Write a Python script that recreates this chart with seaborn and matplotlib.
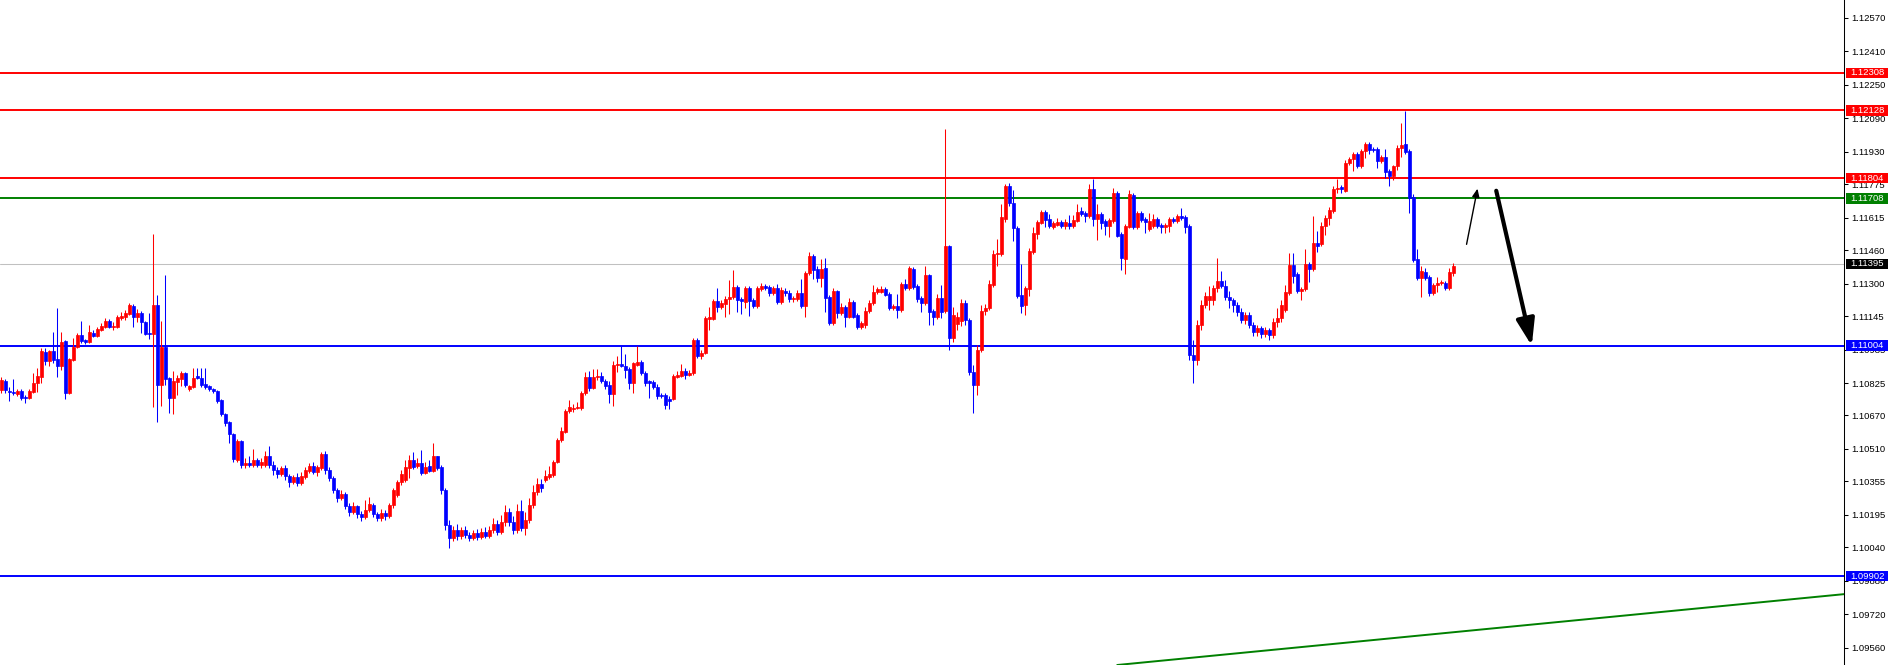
import numpy as np
import pandas as pd
import matplotlib
matplotlib.use('Agg')
import matplotlib.pyplot as plt
from matplotlib.patches import Rectangle, FancyArrowPatch
import seaborn as sns

# candle data (bar index 0..363), prices
opens = [
    1.10792, 1.10835, 1.10787, 1.10782, 1.10773, 1.10787, 1.10759, 1.10754, 1.10782, 1.10826,
    1.10854, 1.10973, 1.10930, 1.10978, 1.10940, 1.10906, 1.11026, 1.10778, 1.10935, 1.10998,
    1.11055, 1.11031, 1.11021, 1.11065, 1.11050, 1.11079, 1.11093, 1.11121, 1.11093, 1.11093,
    1.11136, 1.11141, 1.11155, 1.11193, 1.11141, 1.11160, 1.11116, 1.11065, 1.11060, 1.11198,
    1.10816, 1.10998, 1.10849, 1.10754, 1.10830, 1.10845, 1.10873, 1.10797, 1.10806, 1.10858,
    1.10849, 1.10821, 1.10811, 1.10797, 1.10787, 1.10744, 1.10677, 1.10638, 1.10582, 1.10457,
    1.10548, 1.10433, 1.10443, 1.10433, 1.10457, 1.10433, 1.10433, 1.10476, 1.10433, 1.10409,
    1.10390, 1.10419, 1.10380, 1.10352, 1.10375, 1.10348, 1.10375, 1.10404, 1.10428, 1.10400,
    1.10419, 1.10486, 1.10409, 1.10371, 1.10314, 1.10276, 1.10295, 1.10237, 1.10208, 1.10237,
    1.10199, 1.10185, 1.10218, 1.10242, 1.10199, 1.10180, 1.10204, 1.10189, 1.10242, 1.10290,
    1.10352, 1.10362, 1.10419, 1.10457, 1.10428, 1.10443, 1.10395, 1.10428, 1.10404, 1.10476,
    1.10424, 1.10314, 1.10146, 1.10084, 1.10123, 1.10094, 1.10123, 1.10099, 1.10084, 1.10108,
    1.10089, 1.10113, 1.10094, 1.10123, 1.10151, 1.10113, 1.10160, 1.10208, 1.10160, 1.10123,
    1.10213, 1.10132, 1.10170, 1.10242, 1.10304, 1.10343, 1.10362, 1.10375, 1.10385, 1.10447,
    1.10553, 1.10591, 1.10691, 1.10701, 1.10706, 1.10706, 1.10778, 1.10854, 1.10802, 1.10854,
    1.10858, 1.10835, 1.10816, 1.10773, 1.10911, 1.10916, 1.10906, 1.10892, 1.10826, 1.10911,
    1.10926, 1.10873, 1.10835, 1.10830, 1.10806, 1.10768, 1.10768, 1.10749, 1.10749, 1.10854,
    1.10858, 1.10882, 1.10863, 1.10873, 1.11031, 1.10954, 1.10969, 1.11131, 1.11131, 1.11217,
    1.11189, 1.11203, 1.11227, 1.11237, 1.11285, 1.11227, 1.11212, 1.11280, 1.11222, 1.11193,
    1.11275, 1.11289, 1.11285, 1.11256, 1.11280, 1.11212, 1.11265, 1.11256, 1.11227, 1.11227,
    1.11256, 1.11193, 1.11351, 1.11433, 1.11370, 1.11328, 1.11375, 1.11237, 1.11112, 1.11265,
    1.11160, 1.11189, 1.11141, 1.11212, 1.11150, 1.11093, 1.11103, 1.11169, 1.11208, 1.11261,
    1.11261, 1.11275, 1.11251, 1.11184, 1.11193, 1.11174, 1.11299, 1.11280, 1.11370, 1.11289,
    1.11232, 1.11208, 1.11341, 1.11169, 1.11141, 1.11232, 1.11169, 1.11480, 1.11041, 1.11108,
    1.11121, 1.11208, 1.11126, 1.10878, 1.10816, 1.10983, 1.11169, 1.11184, 1.11294, 1.11442,
    1.11442, 1.11609, 1.11767, 1.11686, 1.11566, 1.11246, 1.11198, 1.11275, 1.11452, 1.11538,
    1.11590, 1.11643, 1.11609, 1.11571, 1.11580, 1.11595, 1.11576, 1.11590, 1.11576, 1.11600,
    1.11648, 1.11638, 1.11624, 1.11753, 1.11609, 1.11633, 1.11600, 1.11576, 1.11600, 1.11734,
    1.11538, 1.11418, 1.11571, 1.11724, 1.11571, 1.11638, 1.11609, 1.11561, 1.11576, 1.11609,
    1.11580, 1.11571, 1.11576, 1.11609, 1.11600, 1.11624, 1.11619, 1.11576, 1.10959, 1.10935,
    1.11103, 1.11198, 1.11222, 1.11222, 1.11280, 1.11313, 1.11289, 1.11237, 1.11222, 1.11198,
    1.11164, 1.11126, 1.11150, 1.11103, 1.11069, 1.11089, 1.11060, 1.11079, 1.11055, 1.11116,
    1.11136, 1.11174, 1.11256, 1.11389, 1.11346, 1.11265, 1.11275, 1.11394, 1.11370, 1.11495,
    1.11490, 1.11576, 1.11614, 1.11648, 1.11753, 1.11762, 1.11743, 1.11877, 1.11896, 1.11920,
    1.11863, 1.11935, 1.11968, 1.11944, 1.11944, 1.11887, 1.11906, 1.11839, 1.11815, 1.11863,
    1.11949, 1.11968, 1.11935, 1.11715, 1.11418, 1.11328, 1.11356, 1.11332, 1.11256, 1.11294,
    1.11304, 1.11304, 1.11280, 1.11351,
]
highs = [
    1.10854, 1.10845, 1.10806, 1.10845, 1.10797, 1.10797, 1.10768, 1.10797, 1.10873, 1.10897,
    1.10993, 1.10993, 1.10983, 1.11069, 1.11184, 1.11069, 1.11031, 1.10945, 1.11041, 1.11065,
    1.11121, 1.11036, 1.11103, 1.11079, 1.11093, 1.11112, 1.11136, 1.11131, 1.11116, 1.11150,
    1.11164, 1.11174, 1.11208, 1.11203, 1.11179, 1.11169, 1.11121, 1.11160, 1.11538, 1.11246,
    1.11121, 1.11341, 1.10854, 1.10882, 1.10863, 1.10882, 1.10878, 1.10816, 1.10897, 1.10897,
    1.10897, 1.10897, 1.10816, 1.10802, 1.10792, 1.10749, 1.10682, 1.10643, 1.10587, 1.10558,
    1.10553, 1.10467, 1.10476, 1.10510, 1.10467, 1.10467, 1.10500, 1.10524, 1.10452, 1.10424,
    1.10428, 1.10433, 1.10390, 1.10385, 1.10395, 1.10400, 1.10424, 1.10443, 1.10447, 1.10433,
    1.10495, 1.10500, 1.10424, 1.10380, 1.10324, 1.10314, 1.10304, 1.10252, 1.10256, 1.10242,
    1.10213, 1.10266, 1.10281, 1.10252, 1.10208, 1.10223, 1.10218, 1.10252, 1.10324, 1.10362,
    1.10409, 1.10457, 1.10481, 1.10495, 1.10467, 1.10505, 1.10447, 1.10457, 1.10539, 1.10476,
    1.10433, 1.10324, 1.10170, 1.10141, 1.10151, 1.10137, 1.10141, 1.10113, 1.10123, 1.10127,
    1.10132, 1.10137, 1.10141, 1.10180, 1.10170, 1.10194, 1.10242, 1.10228, 1.10189, 1.10247,
    1.10266, 1.10208, 1.10276, 1.10338, 1.10371, 1.10366, 1.10409, 1.10428, 1.10457, 1.10563,
    1.10615, 1.10701, 1.10744, 1.10725, 1.10735, 1.10787, 1.10878, 1.10882, 1.10892, 1.10892,
    1.10878, 1.10845, 1.10835, 1.10930, 1.10954, 1.11002, 1.10964, 1.10902, 1.10926, 1.11002,
    1.10935, 1.10882, 1.10840, 1.10840, 1.10821, 1.10778, 1.10778, 1.10763, 1.10868, 1.10882,
    1.10916, 1.10897, 1.10887, 1.11041, 1.11041, 1.10983, 1.11145, 1.11189, 1.11227, 1.11280,
    1.11222, 1.11241, 1.11318, 1.11365, 1.11294, 1.11237, 1.11289, 1.11289, 1.11232, 1.11289,
    1.11304, 1.11299, 1.11294, 1.11289, 1.11299, 1.11285, 1.11280, 1.11270, 1.11241, 1.11270,
    1.11323, 1.11361, 1.11452, 1.11442, 1.11385, 1.11418, 1.11423, 1.11246, 1.11280, 1.11270,
    1.11208, 1.11198, 1.11232, 1.11222, 1.11160, 1.11121, 1.11189, 1.11222, 1.11294, 1.11285,
    1.11289, 1.11285, 1.11261, 1.11203, 1.11251, 1.11308, 1.11323, 1.11385, 1.11380, 1.11299,
    1.11241, 1.11385, 1.11346, 1.11179, 1.11251, 1.11294, 1.12040, 1.11485, 1.11189, 1.11164,
    1.11227, 1.11222, 1.11136, 1.10911, 1.11007, 1.11198, 1.11203, 1.11318, 1.11461, 1.11514,
    1.11681, 1.11777, 1.11781, 1.11748, 1.11576, 1.11394, 1.11289, 1.11471, 1.11571, 1.11604,
    1.11652, 1.11652, 1.11633, 1.11600, 1.11614, 1.11604, 1.11609, 1.11628, 1.11628, 1.11681,
    1.11667, 1.11648, 1.11777, 1.11801, 1.11681, 1.11643, 1.11609, 1.11614, 1.11757, 1.11743,
    1.11547, 1.11585, 1.11748, 1.11734, 1.11648, 1.11648, 1.11619, 1.11638, 1.11633, 1.11619,
    1.11590, 1.11590, 1.11619, 1.11619, 1.11633, 1.11662, 1.11628, 1.11585, 1.11031, 1.11126,
    1.11222, 1.11261, 1.11289, 1.11294, 1.11423, 1.11361, 1.11318, 1.11265, 1.11232, 1.11212,
    1.11184, 1.11164, 1.11164, 1.11116, 1.11103, 1.11098, 1.11093, 1.11089, 1.11136, 1.11184,
    1.11222, 1.11294, 1.11447, 1.11447, 1.11356, 1.11285, 1.11466, 1.11404, 1.11624, 1.11552,
    1.11595, 1.11628, 1.11667, 1.11767, 1.11801, 1.11772, 1.11891, 1.11906, 1.11930, 1.11930,
    1.11944, 1.11978, 1.11978, 1.11954, 1.11954, 1.11915, 1.11944, 1.11849, 1.11867, 1.11963,
    1.12068, 1.12125, 1.11944, 1.11729, 1.11466, 1.11385, 1.11375, 1.11341, 1.11304, 1.11332,
    1.11318, 1.11313, 1.11375, 1.11399,
]
lows = [
    1.10778, 1.10778, 1.10739, 1.10768, 1.10763, 1.10744, 1.10730, 1.10749, 1.10778, 1.10782,
    1.10826, 1.10911, 1.10906, 1.10921, 1.10854, 1.10887, 1.10749, 1.10773, 1.10930, 1.10993,
    1.11017, 1.11012, 1.11017, 1.11046, 1.11046, 1.11074, 1.11089, 1.11089, 1.11079, 1.11089,
    1.11126, 1.11126, 1.11150, 1.11093, 1.11116, 1.11065, 1.11055, 1.11036, 1.10711, 1.10638,
    1.10715, 1.10816, 1.10682, 1.10677, 1.10768, 1.10811, 1.10806, 1.10787, 1.10802, 1.10845,
    1.10806, 1.10797, 1.10787, 1.10778, 1.10730, 1.10667, 1.10619, 1.10539, 1.10447, 1.10447,
    1.10419, 1.10419, 1.10424, 1.10424, 1.10424, 1.10419, 1.10424, 1.10419, 1.10385, 1.10371,
    1.10380, 1.10362, 1.10328, 1.10343, 1.10333, 1.10338, 1.10366, 1.10395, 1.10390, 1.10380,
    1.10409, 1.10390, 1.10357, 1.10300, 1.10256, 1.10266, 1.10223, 1.10189, 1.10199, 1.10180,
    1.10165, 1.10175, 1.10208, 1.10185, 1.10165, 1.10165, 1.10170, 1.10180, 1.10228, 1.10281,
    1.10338, 1.10352, 1.10371, 1.10414, 1.10419, 1.10385, 1.10390, 1.10400, 1.10400, 1.10409,
    1.10295, 1.10123, 1.10036, 1.10070, 1.10075, 1.10080, 1.10084, 1.10070, 1.10075, 1.10075,
    1.10080, 1.10084, 1.10084, 1.10108, 1.10099, 1.10104, 1.10141, 1.10141, 1.10104, 1.10108,
    1.10118, 1.10099, 1.10156, 1.10228, 1.10290, 1.10304, 1.10352, 1.10366, 1.10375, 1.10443,
    1.10543, 1.10587, 1.10682, 1.10687, 1.10701, 1.10696, 1.10768, 1.10787, 1.10797, 1.10840,
    1.10826, 1.10797, 1.10730, 1.10715, 1.10878, 1.10902, 1.10849, 1.10797, 1.10778, 1.10906,
    1.10863, 1.10811, 1.10754, 1.10797, 1.10749, 1.10754, 1.10701, 1.10701, 1.10744, 1.10849,
    1.10854, 1.10845, 1.10858, 1.10863, 1.10945, 1.10940, 1.10964, 1.11079, 1.11126, 1.11164,
    1.11179, 1.11141, 1.11155, 1.11227, 1.11164, 1.11155, 1.11184, 1.11145, 1.11184, 1.11184,
    1.11265, 1.11270, 1.11241, 1.11246, 1.11203, 1.11203, 1.11241, 1.11212, 1.11212, 1.11217,
    1.11184, 1.11141, 1.11341, 1.11323, 1.11308, 1.11285, 1.11164, 1.11103, 1.11103, 1.11136,
    1.11150, 1.11093, 1.11136, 1.11136, 1.11084, 1.11084, 1.11089, 1.11160, 1.11198, 1.11251,
    1.11256, 1.11241, 1.11174, 1.11174, 1.11136, 1.11164, 1.11270, 1.11270, 1.11275, 1.11212,
    1.11164, 1.11198, 1.11103, 1.11103, 1.11131, 1.11136, 1.11160, 1.10983, 1.11021, 1.11079,
    1.11098, 1.11103, 1.10863, 1.10682, 1.10768, 1.10973, 1.11150, 1.11174, 1.11285, 1.11385,
    1.11433, 1.11595, 1.11672, 1.11504, 1.11232, 1.11160, 1.11150, 1.11241, 1.11442, 1.11514,
    1.11585, 1.11571, 1.11566, 1.11561, 1.11576, 1.11566, 1.11561, 1.11561, 1.11566, 1.11595,
    1.11624, 1.11595, 1.11614, 1.11576, 1.11509, 1.11561, 1.11533, 1.11523, 1.11590, 1.11523,
    1.11365, 1.11346, 1.11566, 1.11561, 1.11561, 1.11595, 1.11542, 1.11552, 1.11566, 1.11566,
    1.11542, 1.11542, 1.11547, 1.11590, 1.11590, 1.11604, 1.11542, 1.10935, 1.10826, 1.10911,
    1.11079, 1.11184, 1.11174, 1.11198, 1.11261, 1.11280, 1.11222, 1.11184, 1.11164, 1.11145,
    1.11112, 1.11108, 1.11089, 1.11050, 1.11050, 1.11041, 1.11046, 1.11031, 1.11041, 1.11093,
    1.11116, 1.11164, 1.11246, 1.11304, 1.11256, 1.11222, 1.11265, 1.11308, 1.11361, 1.11452,
    1.11480, 1.11533, 1.11580, 1.11638, 1.11734, 1.11734, 1.11738, 1.11867, 1.11839, 1.11853,
    1.11853, 1.11901, 1.11920, 1.11930, 1.11853, 1.11877, 1.11805, 1.11767, 1.11796, 1.11843,
    1.11906, 1.11920, 1.11638, 1.11404, 1.11318, 1.11237, 1.11318, 1.11241, 1.11246, 1.11261,
    1.11294, 1.11270, 1.11270, 1.11337,
]
closes = [
    1.10840, 1.10792, 1.10782, 1.10778, 1.10787, 1.10754, 1.10754, 1.10787, 1.10826, 1.10858,
    1.10978, 1.10930, 1.10978, 1.10935, 1.10906, 1.11021, 1.10778, 1.10940, 1.10998, 1.11055,
    1.11026, 1.11021, 1.11069, 1.11050, 1.11084, 1.11098, 1.11121, 1.11093, 1.11098, 1.11141,
    1.11145, 1.11160, 1.11198, 1.11141, 1.11160, 1.11116, 1.11060, 1.11060, 1.11198, 1.10816,
    1.10998, 1.10845, 1.10754, 1.10835, 1.10849, 1.10873, 1.10816, 1.10811, 1.10849, 1.10849,
    1.10816, 1.10806, 1.10797, 1.10787, 1.10739, 1.10677, 1.10634, 1.10582, 1.10462, 1.10548,
    1.10433, 1.10443, 1.10433, 1.10457, 1.10433, 1.10447, 1.10476, 1.10433, 1.10409, 1.10390,
    1.10419, 1.10380, 1.10352, 1.10375, 1.10348, 1.10380, 1.10409, 1.10428, 1.10400, 1.10424,
    1.10486, 1.10409, 1.10371, 1.10314, 1.10276, 1.10295, 1.10237, 1.10208, 1.10237, 1.10199,
    1.10185, 1.10218, 1.10247, 1.10199, 1.10180, 1.10204, 1.10189, 1.10242, 1.10314, 1.10352,
    1.10390, 1.10424, 1.10457, 1.10424, 1.10443, 1.10395, 1.10424, 1.10404, 1.10476, 1.10419,
    1.10314, 1.10146, 1.10084, 1.10123, 1.10094, 1.10123, 1.10099, 1.10084, 1.10108, 1.10089,
    1.10113, 1.10094, 1.10123, 1.10151, 1.10113, 1.10160, 1.10208, 1.10160, 1.10123, 1.10213,
    1.10132, 1.10170, 1.10242, 1.10304, 1.10343, 1.10324, 1.10380, 1.10390, 1.10447, 1.10553,
    1.10596, 1.10691, 1.10711, 1.10706, 1.10711, 1.10778, 1.10854, 1.10802, 1.10854, 1.10858,
    1.10835, 1.10811, 1.10773, 1.10911, 1.10916, 1.10906, 1.10887, 1.10826, 1.10921, 1.10926,
    1.10873, 1.10826, 1.10826, 1.10806, 1.10763, 1.10763, 1.10720, 1.10739, 1.10858, 1.10863,
    1.10882, 1.10863, 1.10873, 1.11031, 1.10954, 1.10969, 1.11136, 1.11141, 1.11217, 1.11189,
    1.11208, 1.11227, 1.11237, 1.11285, 1.11222, 1.11217, 1.11280, 1.11217, 1.11193, 1.11280,
    1.11289, 1.11280, 1.11256, 1.11280, 1.11212, 1.11270, 1.11256, 1.11227, 1.11232, 1.11256,
    1.11193, 1.11351, 1.11433, 1.11365, 1.11328, 1.11370, 1.11232, 1.11112, 1.11265, 1.11160,
    1.11189, 1.11141, 1.11212, 1.11141, 1.11093, 1.11112, 1.11169, 1.11208, 1.11261, 1.11275,
    1.11275, 1.11246, 1.11184, 1.11193, 1.11174, 1.11299, 1.11280, 1.11375, 1.11285, 1.11227,
    1.11208, 1.11341, 1.11164, 1.11141, 1.11232, 1.11164, 1.11480, 1.11041, 1.11150, 1.11141,
    1.11208, 1.11126, 1.10878, 1.10816, 1.10983, 1.11169, 1.11184, 1.11299, 1.11442, 1.11447,
    1.11619, 1.11767, 1.11686, 1.11566, 1.11241, 1.11193, 1.11280, 1.11456, 1.11542, 1.11595,
    1.11643, 1.11604, 1.11576, 1.11590, 1.11595, 1.11576, 1.11595, 1.11576, 1.11604, 1.11643,
    1.11633, 1.11624, 1.11753, 1.11609, 1.11633, 1.11590, 1.11576, 1.11604, 1.11734, 1.11528,
    1.11423, 1.11576, 1.11729, 1.11571, 1.11638, 1.11604, 1.11595, 1.11600, 1.11609, 1.11576,
    1.11571, 1.11580, 1.11609, 1.11600, 1.11624, 1.11614, 1.11571, 1.10959, 1.10935, 1.11103,
    1.11198, 1.11241, 1.11241, 1.11280, 1.11313, 1.11289, 1.11237, 1.11222, 1.11198, 1.11164,
    1.11126, 1.11150, 1.11103, 1.11069, 1.11089, 1.11060, 1.11079, 1.11055, 1.11116, 1.11136,
    1.11198, 1.11261, 1.11389, 1.11337, 1.11265, 1.11275, 1.11394, 1.11370, 1.11495, 1.11480,
    1.11576, 1.11614, 1.11652, 1.11753, 1.11757, 1.11753, 1.11877, 1.11896, 1.11920, 1.11863,
    1.11935, 1.11968, 1.11939, 1.11939, 1.11887, 1.11906, 1.11834, 1.11815, 1.11863, 1.11949,
    1.11963, 1.11930, 1.11710, 1.11413, 1.11328, 1.11361, 1.11328, 1.11256, 1.11294, 1.11304,
    1.11308, 1.11280, 1.11356, 1.11385,
]

# horizontal levels drawn on the chart
red_levels = [1.12308, 1.12128, 1.11804]
green_levels = [1.11708]
blue_levels = [1.11004, 1.09902]
bid_price = 1.11395

# price scale labels on the right
tick_prices = [1.12570, 1.12410, 1.12250, 1.12090, 1.11930, 1.11775, 1.11615, 1.11460,
               1.11300, 1.11145, 1.10985, 1.10825, 1.10670, 1.10510, 1.10355, 1.10195,
               1.10040, 1.09880, 1.09720, 1.09560]

# rising green trendline (bar index, price)
trend_bars = [279.0, 470.0]
trend_prices = [1.09477, 1.09833]

# hand drawn arrows (bar index, price): tail -> head
small_arrow = [(366.2, 1.11475), (369.2, 1.11767)]
big_arrow = [(373.6, 1.11757), (382.8, 1.10990)]

df = pd.DataFrame({'open': opens, 'high': highs, 'low': lows, 'close': closes})
df['bar'] = np.arange(len(df))
df['up'] = df['close'] >= df['open']
colors = np.where(df['up'], '#ff0000', '#0000ff')

sns.set_theme(style='white')
plt.rcParams['font.family'] = ['Liberation Sans', 'DejaVu Sans']

W, H = 1888, 665
fig = plt.figure(figsize=(W / 100, H / 100), dpi=100)
ax = fig.add_axes([0, 0, 1844 / W, 1])
ax.set_facecolor('white')

# wicks and bodies
ax.vlines(df['bar'], df['low'], df['high'], colors=colors, linewidth=0.75, zorder=3)
body_low = df[['open', 'close']].min(axis=1)
body_h = (df['close'] - df['open']).abs()
ax.bar(df['bar'], body_h, bottom=body_low, width=0.66, color=colors,
       edgecolor=colors, linewidth=0.5, zorder=4)

for p in red_levels:
    ax.axhline(p, color='#ff0000', linewidth=1.4, zorder=2)
for p in green_levels:
    ax.axhline(p, color='#008000', linewidth=1.4, zorder=2)
for p in blue_levels:
    ax.axhline(p, color='#0000ff', linewidth=1.4, zorder=2)
ax.axhline(bid_price, color='#c0c0c0', linewidth=0.75, zorder=1)

sns.lineplot(x=trend_bars, y=trend_prices, color='#008000', linewidth=1.4, ax=ax, zorder=2)

# arrows
ax.add_patch(FancyArrowPatch(small_arrow[0], small_arrow[1], arrowstyle='-|>,head_length=0.5,head_width=0.22',
                             mutation_scale=10, color='black', linewidth=1.0, zorder=6))
ax.add_patch(FancyArrowPatch(big_arrow[0], big_arrow[1], arrowstyle='-|>,head_length=1.6,head_width=0.55',
                             mutation_scale=10, color='black', linewidth=3.0, zorder=6))

ax.set_xlim(-0.325, 460.7)
ax.set_ylim(1.09477, 1.12656)
ax.set_xticks([])

ax.yaxis.tick_right()
ax.set_yticks(tick_prices)
ax.set_yticklabels([f'{t:.5f}' for t in tick_prices])
ax.tick_params(axis='y', which='both', right=True, length=3, width=0.75, pad=2,
               labelsize=6.8, colors='black', direction='out')
for s in ['top', 'left', 'bottom']:
    ax.spines[s].set_visible(False)
ax.spines['right'].set_color('black')
ax.spines['right'].set_linewidth(0.75)
ax.grid(False)

# level price boxes on the scale
box_h = 0.00050
tr = ax.get_yaxis_transform()
labels = ([(p, '#ff0000') for p in red_levels] + [(p, '#008000') for p in green_levels]
          + [(p, '#0000ff') for p in blue_levels] + [(bid_price, '#000000')])
for p, c in labels:
    ax.add_patch(Rectangle((1 + 2 / 1844, p - box_h / 2), 0.03, box_h, transform=tr,
                           facecolor=c, edgecolor='none', clip_on=False, zorder=8))
    ax.text(1 + 6 / 1844, p, f'{p:.5f}', transform=tr, color='white', fontsize=6.8,
            va='center', ha='left', clip_on=False, zorder=9)

fig.savefig('out.png', dpi=100, facecolor='white')
